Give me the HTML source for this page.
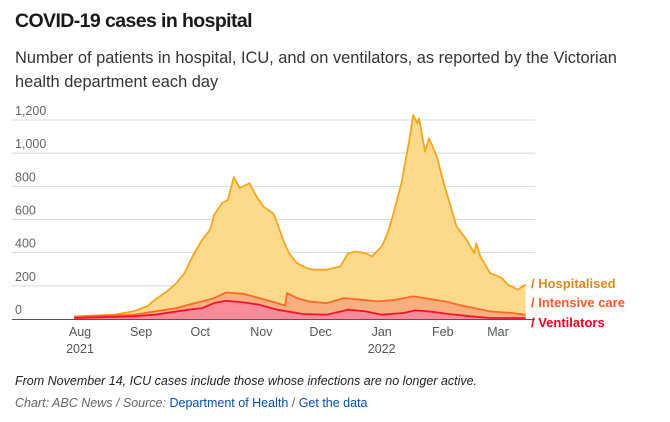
<!DOCTYPE html>
<html><head><meta charset="utf-8"><style>
body{margin:0;background:#fff;font-family:"Liberation Sans",sans-serif;width:670px;height:422px;overflow:hidden;position:relative}
h1{position:absolute;left:15px;top:10px;margin:0;font-size:19.5px;font-weight:bold;color:#1a1a1a;letter-spacing:-0.6px}
.sub{position:absolute;left:15px;top:46px;width:650px;font-size:16.4px;line-height:24px;color:#333}
.note{position:absolute;left:15px;top:374px;font-size:12.5px;font-style:italic;color:#222}
.src{position:absolute;left:15px;top:396px;font-size:12.5px;color:#666}
.src i{font-style:italic}
.src a{color:#0a4fa8;text-decoration:none}
svg{position:absolute;left:0;top:0}
</style></head><body>
<h1>COVID-19 cases in hospital</h1>
<div class="sub">Number of patients in hospital, ICU, and on ventilators, as reported by the Victorian health department each day</div>
<svg id="chart" width="670" height="422"></svg>
<div class="note">From November 14, ICU cases include those whose infections are no longer active.</div>
<div class="src"><i>Chart: ABC News / Source:</i> <a href="#">Department of Health</a> / <a href="#">Get the data</a></div>
<script>
const yTicks=[0,200,400,600,800,1000,1200];
const monthLabels=["Aug","Sep","Oct","Nov","Dec","Jan","Feb","Mar"];
const monthDays=[0,31,61,92,122,153,184,212];
const yearLabels=["2021","","","","","2022","",""];
const hospDays=[-3,17,27,34,38,44,49,53,57,62,66,68,72,75,78,81,86,89,93,98,100,103,106,110,115,119,125,132,136,140,145,148,153,156,159,163,165,167,169,171,172,175,177,181,184,187,191,196,200,201,203,208,214,217,222,226];
const hospVals=[15,26,46,76,116,166,217,277,377,478,538,628,698,718,855,789,819,749,678,638,578,478,397,337,307,297,297,317,397,407,397,377,437,518,638,819,949,1080,1230,1180,1210,1009,1090,979,839,718,558,478,397,457,377,277,247,207,177,207];
const icuDays=[-3,27,38,49,55,62,68,74,83,91,100,104,105,110,116,125,134,143,151,160,169,177,185,194,200,208,219,226];
const icuVals=[15,25,46,66,86,106,126,160,152,126,96,80,156,126,106,96,126,116,106,116,136,122,106,80,66,46,36,26];
const ventDays=[-3,27,38,55,62,68,74,83,91,100,113,125,136,145,153,164,170,177,187,198,208,226];
const ventVals=[6,16,26,56,66,96,110,100,86,56,30,26,56,46,26,36,52,46,30,16,6,6];
const svg=document.getElementById('chart');
const NS='http://www.w3.org/2000/svg';
const X=d=>80+d*(418/212);
const Y=v=>319-v*(199/1200);
function mk(t,a){const e=document.createElementNS(NS,t);for(const k in a)e.setAttribute(k,a[k]);svg.appendChild(e);return e;}
yTicks.forEach((t,i)=>{
  if(t>0){const l=mk('line',{x1:12,x2:535,y1:Y(t),y2:Y(t),stroke:'#d5d9de','stroke-width':1});
  
  }
  const tx=mk('text',{x:15,y:Y(t)-5,'font-size':12.5,fill:'#666'});
  tx.textContent=t.toLocaleString('en-US');
  
  
});
function area(days,vals,fill,stroke,name){
  let d='M'+X(days[0])+','+Y(0);
  days.forEach((dd,i)=>{d+=' L'+X(dd).toFixed(1)+','+Y(vals[i]).toFixed(1);});
  d+=' L'+X(days[days.length-1])+','+Y(0)+' Z';
  const a=mk('path',{d:d,fill:fill});
  
  
  let p='';days.forEach((dd,i)=>{p+=(i?' L':'M')+X(dd).toFixed(1)+','+Y(vals[i]).toFixed(1);});
  const l=mk('path',{d:p,fill:'none',stroke:stroke,'stroke-width':1.8,'stroke-linejoin':'round'});
  
  
}
area(hospDays,hospVals,'#fdd98b','#f5a623','hospitalised');
area(icuDays,icuVals,'#f9b07e','#ff6a2a','intensive-care');
area(ventDays,ventVals,'#ff8b98','#f5142e','ventilators');
const base=mk('line',{x1:12,x2:535,y1:319.5,y2:319.5,stroke:'#555','stroke-width':1});


monthLabels.forEach((m,i)=>{
  const t=mk('text',{x:X(monthDays[i]),y:336,'font-size':12.5,fill:'#555','text-anchor':'middle'});
  t.textContent=m;
  
  
  if(yearLabels[i]){const y=mk('text',{x:X(monthDays[i]),y:353,'font-size':12.5,fill:'#555','text-anchor':'middle'});
  y.textContent=yearLabels[i];
  
  }
});
const lab=[["Hospitalised",288,'#d98a1c'],["Intensive care",307,'#ff5a2a'],["Ventilators",327,'#ee0022']];
lab.forEach(l=>{
  const t=mk('text',{x:531,y:l[1],'font-size':13,'font-weight':'bold',fill:l[2]});
  t.textContent='/ '+l[0];
  
  
});
</script>
</body></html>
